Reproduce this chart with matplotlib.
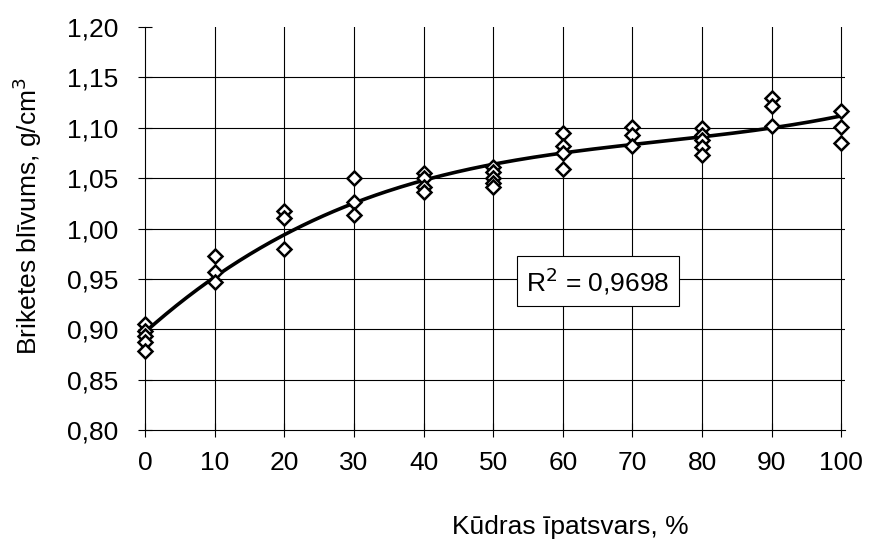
import matplotlib.pyplot as plt
import numpy as np

plt.rcParams['font.family'] = ['Liberation Sans', 'DejaVu Sans']

# peat share, % (repeated per measurement)
kudra = [0, 0, 0, 0, 0,
         10, 10, 10,
         20, 20, 20,
         30, 30, 30,
         40, 40, 40, 40,
         50, 50, 50, 50, 50,
         60, 60, 60, 60,
         70, 70, 70,
         80, 80, 80, 80, 80,
         90, 90, 90,
         100, 100, 100]
# briquette density, g/cm3
blivums = [0.905, 0.898, 0.893, 0.887, 0.878,
           0.973, 0.957, 0.947,
           1.017, 1.010, 0.980,
           1.050, 1.026, 1.013,
           1.055, 1.050, 1.041, 1.036,
           1.061, 1.056, 1.050, 1.045, 1.041,
           1.095, 1.082, 1.075, 1.059,
           1.101, 1.093, 1.082,
           1.100, 1.093, 1.088, 1.081, 1.073,
           1.130, 1.122, 1.102,
           1.117, 1.101, 1.085]

x_ticks = [0, 10, 20, 30, 40, 50, 60, 70, 80, 90, 100]
y_ticks = [0.80, 0.85, 0.90, 0.95, 1.00, 1.05, 1.10, 1.15, 1.20]
r2_text = 'R$^2$ = 0,9698'


def main():
    fig = plt.figure(figsize=(8.71, 5.46), dpi=100)
    ax = fig.add_axes([0.1665, 0.2125, 0.8035, 0.738])

    # grid drawn by hand so the frame looks like the old Excel chart
    for yv in y_ticks[1:-1]:
        ax.plot([0, 100.5], [yv, yv], color='black', lw=0.8, zorder=1)
    for xv in x_ticks[1:]:
        ax.plot([xv, xv], [0.80, 1.20], color='black', lw=0.8, zorder=1)

    # polynomial trend line (3rd order)
    coef = np.polyfit(kudra, blivums, 3)
    xs = np.linspace(0, 100, 200)
    ax.plot(xs, np.polyval(coef, xs), color='black', lw=2.6, zorder=3)

    ax.plot(kudra, blivums, linestyle='none', marker='D', ms=7,
            mfc='white', mec='black', mew=1.8, zorder=4, clip_on=False)

    ax.set_xlim(0, 100.5)
    ax.set_ylim(0.80, 1.20)
    ax.set_xticks(x_ticks)
    ax.set_yticks(y_ticks)
    ax.set_xticklabels([str(v) for v in x_ticks])
    ax.set_yticklabels([('%.2f' % v).replace('.', ',') for v in y_ticks])
    ax.tick_params(direction='inout', length=10, width=0.8, labelsize=19)
    ax.tick_params(axis='y', pad=14)
    ax.tick_params(axis='x', pad=10)

    for side in ['top', 'right']:
        ax.spines[side].set_visible(False)
    for side in ['left', 'bottom']:
        ax.spines[side].set_linewidth(0.8)

    ax.text(65, 0.9475, r2_text, fontsize=19, ha='center', va='center',
            bbox=dict(boxstyle='square,pad=0.35', fc='white', ec='black', lw=0.8),
            zorder=5)

    fig.text(0.655, 0.035, 'Kūdras īpatsvars, %', fontsize=19,
             ha='center', va='center')
    fig.text(0.031, 0.605, 'Briketes blīvums, g/cm$^3$', fontsize=19,
             ha='center', va='center', rotation=90)

    fig.savefig('out.png', dpi=100)


main()
